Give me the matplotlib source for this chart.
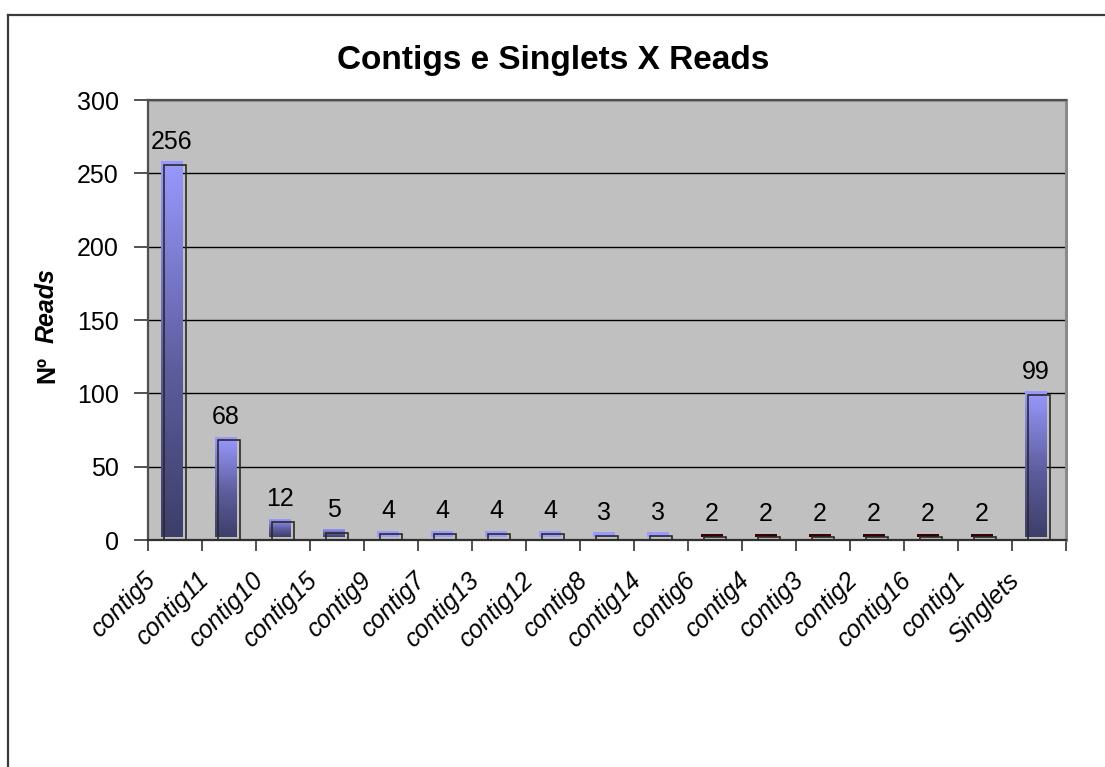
import numpy as np
import matplotlib
matplotlib.use("Agg")
import matplotlib.pyplot as plt
from matplotlib.transforms import ScaledTranslation
from matplotlib.colors import LinearSegmentedColormap
from matplotlib.lines import Line2D

plt.rcParams["font.family"] = ["Liberation Sans", "DejaVu Sans"]

# data
CATEGORIES = ["contig5", "contig11", "contig10", "contig15", "contig9",
              "contig7", "contig13", "contig12", "contig8", "contig14",
              "contig6", "contig4", "contig3", "contig2", "contig16",
              "contig1", "Singlets"]
READS = [256, 68, 12, 5, 4, 4, 4, 4, 3, 3, 2, 2, 2, 2, 2, 2, 99]
Y_TICKS = [0, 50, 100, 150, 200, 250, 300]

TOP_BLUE = "#9999FF"
MID_BLUE = "#5d5d9e"
BOTTOM_BLUE = "#3e3e6a"
TINY_COLOR = "#380000"
BAR_W = 0.39

DPI = 100
fig = plt.figure(figsize=(11.05, 7.67), dpi=DPI)
fig.patch.set_facecolor("white")
W, H = 1105, 767
ax = fig.add_axes([148 / W, 1 - 540 / H, (1066 - 148) / W, (540 - 100) / H])
ax.set_facecolor("#C0C0C0")

# outer chart frame (only left and top edges are inside the picture)
frame_kw = dict(color="#3a3a3a", lw=1.6, transform=fig.transFigure)
fig.add_artist(Line2D([8 / W, 8 / W], [1 - 15 / H, 0], **frame_kw))
fig.add_artist(Line2D([8 / W, 1], [1 - 15 / H, 1 - 15 / H], **frame_kw))

x = np.arange(len(CATEGORIES))
cmap = LinearSegmentedColormap.from_list(
    "bar", [(0, BOTTOM_BLUE), (0.45, MID_BLUE), (1, TOP_BLUE)])
grad = np.linspace(0, 1, 256).reshape(-1, 1)

# fill is shifted up-left of the outline, like the Excel shadow look
shift = ax.transData + ScaledTranslation(-3 / DPI, 3.5 / DPI, fig.dpi_scale_trans)
for xi, v in zip(x, READS):
    x0, x1 = xi - BAR_W / 2, xi + BAR_W / 2
    if v <= 2:
        ax.fill_between([x0, x1], 0, v, color=TINY_COLOR, lw=0,
                        transform=shift, zorder=2)
    elif v < 5:
        ax.fill_between([x0, x1], 0, v, color=TOP_BLUE, lw=0,
                        transform=shift, zorder=2)
    else:
        ax.imshow(grad, extent=(x0, x1, 0, v), origin="lower", cmap=cmap,
                  aspect="auto", transform=shift, zorder=2,
                  interpolation="bilinear")
    ax.annotate(str(v), (xi, v), xytext=(-3, 16), textcoords="offset pixels",
                ha="center", va="baseline", fontsize=18, color="black",
                zorder=5)

ax.bar(x, READS, width=BAR_W, fill=False, edgecolor="#2b2b2b",
       linewidth=1.2, zorder=3)

ax.set_xlim(-0.5, len(CATEGORIES) - 0.5)
ax.set_ylim(0, 300)
ax.set_yticks(Y_TICKS)
ax.yaxis.grid(True, color="black", linewidth=1.0, zorder=1)
ax.set_axisbelow(True)

ax.set_xticks(x)
ax.set_xticklabels(CATEGORIES, rotation=45, ha="right", va="top",
                   rotation_mode="anchor", fontstyle="italic", fontsize=18)
ax.set_xticks(np.arange(-0.5, len(CATEGORIES)), minor=True)
ax.tick_params(axis="x", which="major", length=0, pad=0)
ax.tick_params(axis="x", which="minor", length=8, width=1.2, color="#333")
ax.tick_params(axis="y", length=10, width=1.2, color="#333", pad=11,
               labelsize=18)
lab_shift = ScaledTranslation(-32 / DPI, -28 / DPI, fig.dpi_scale_trans)
for lab in ax.get_xticklabels():
    lab.set_transform(lab.get_transform() + lab_shift)

ax.spines["left"].set_color("#505050")
ax.spines["left"].set_linewidth(1.6)
ax.spines["bottom"].set_color("#303030")
ax.spines["bottom"].set_linewidth(1.6)
ax.spines["top"].set_color("#505050")
ax.spines["top"].set_linewidth(1.6)
ax.spines["right"].set_color("#8a8a8a")
ax.spines["right"].set_linewidth(2.2)

fig.text(553 / W, 1 - 60 / H, "Contigs e Singlets X Reads", ha="center",
         va="center", fontsize=24, fontweight="bold")
fig.text(47 / W, 1 - 383 / H, "Nº", rotation=90, ha="center", va="bottom",
         fontsize=18, fontweight="bold")
fig.text(47 / W, 1 - 343 / H, "Reads", rotation=90, ha="center", va="bottom",
         fontsize=18, fontweight="bold", fontstyle="italic")

fig.savefig("out.png", dpi=DPI, facecolor="white")
